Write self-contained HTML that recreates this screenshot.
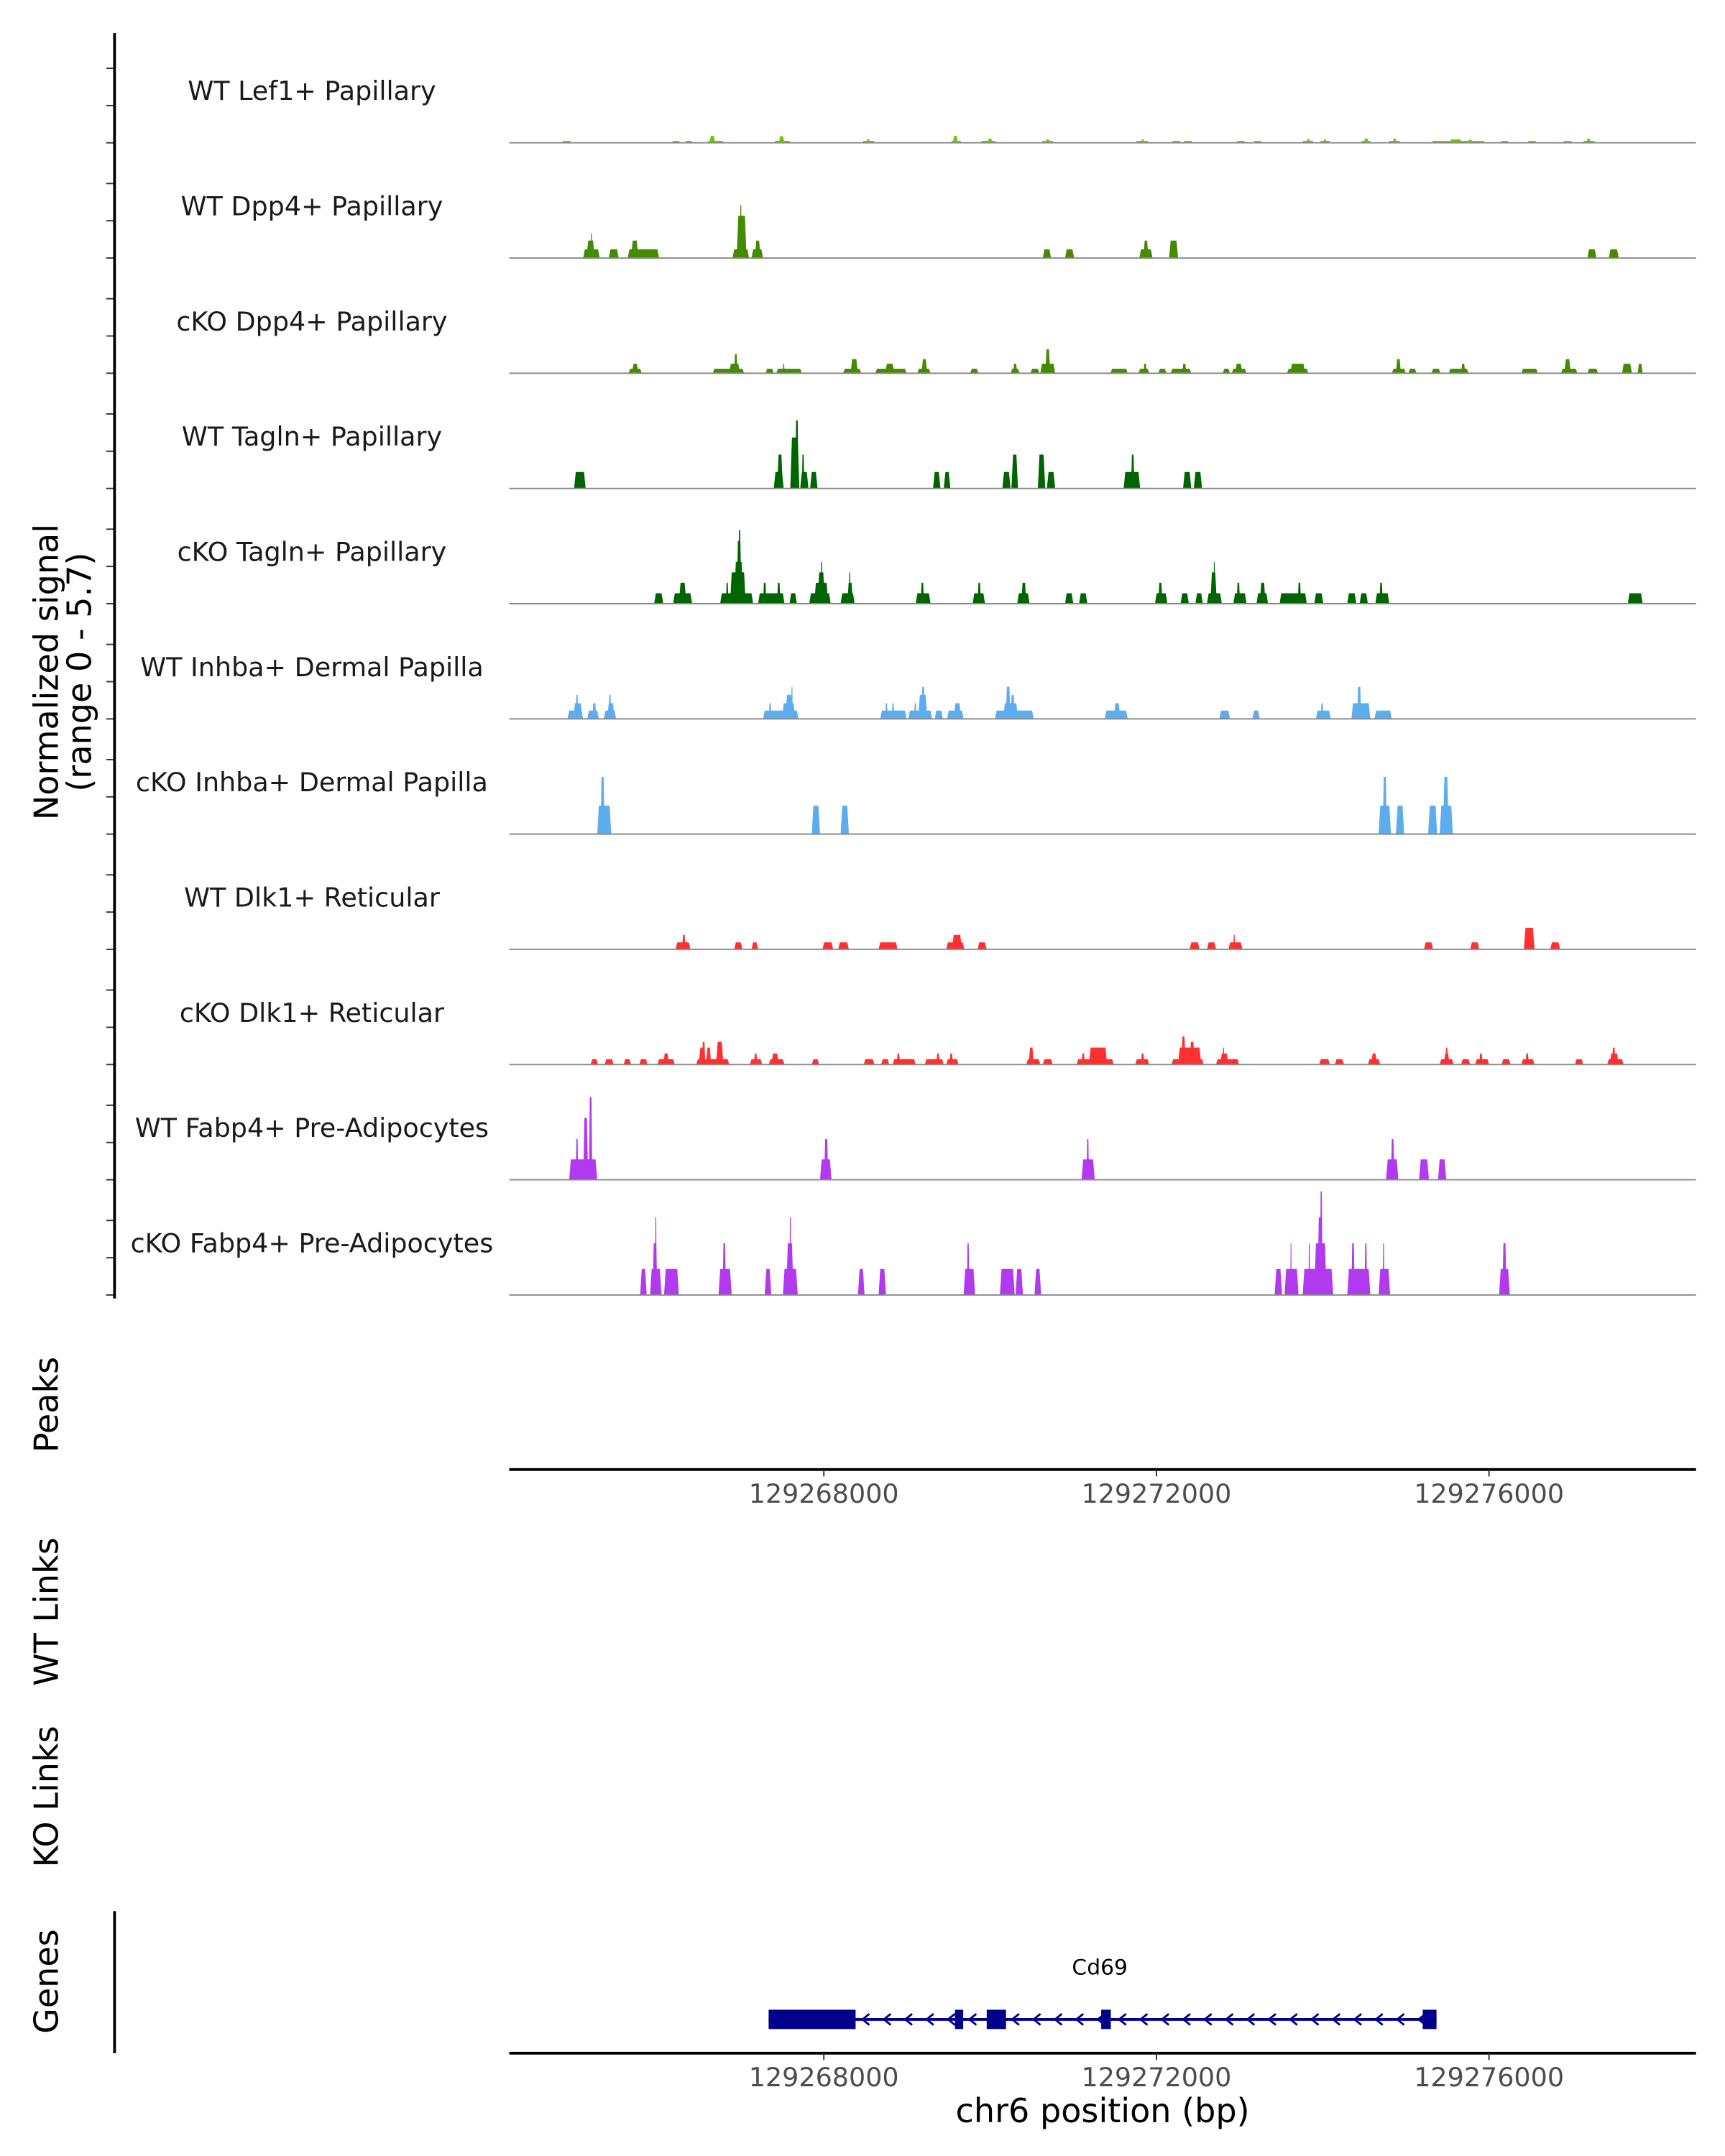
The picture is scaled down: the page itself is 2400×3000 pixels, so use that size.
<!DOCTYPE html>
<html><head><meta charset="utf-8"><style>
html,body{margin:0;padding:0;background:#fff;}
svg{display:block;font-family:"DejaVu Sans","Liberation Sans",sans-serif;}
</style></head><body>
<svg id="chart" width="2400" height="3000" viewBox="0 0 1250 1562.5" xmlns="http://www.w3.org/2000/svg">
<rect width="1250" height="1562.5" fill="#fff"/>
<g id="tracks"></g>
<g id="labels"></g>
<g id="leftaxis"></g>
<text transform="translate(42,487) rotate(-90)" text-anchor="middle" font-size="24" fill="#000">Normalized signal</text>
<text transform="translate(66,487) rotate(-90)" text-anchor="middle" font-size="24" fill="#000">(range 0 - 5.7)</text>
<text transform="translate(42,1018) rotate(-90)" text-anchor="middle" font-size="24" fill="#000">Peaks</text>
<text transform="translate(42,1168) rotate(-90)" text-anchor="middle" font-size="24" fill="#000">WT Links</text>
<text transform="translate(42,1302) rotate(-90)" text-anchor="middle" font-size="24" fill="#000">KO Links</text>
<text transform="translate(42,1436) rotate(-90)" text-anchor="middle" font-size="24" fill="#000">Genes</text>
<line x1="83" y1="1385" x2="83" y2="1488" stroke="#000" stroke-width="2"/>
<g id="xaxes"></g>
<g id="gene"></g>
<text x="799" y="1538" text-anchor="middle" font-size="24" fill="#000">chr6 position (bp)</text>
</svg>
<script>
// axis region (kb) and data (offsets in kb from dataOrigin, signal value)
const regionStart = 129264.216;
const regionEnd = 129278.49;
const dataOrigin = 129264.014;
const dataStep = 0.9924;
const trackNames = ["WT Lef1+ Papillary","WT Dpp4+ Papillary","cKO Dpp4+ Papillary","WT Tagln+ Papillary","cKO Tagln+ Papillary","WT Inhba+ Dermal Papilla","cKO Inhba+ Dermal Papilla","WT Dlk1+ Reticular","cKO Dlk1+ Reticular","WT Fabp4+ Pre-Adipocytes","cKO Fabp4+ Pre-Adipocytes"];
const trackColors = ["#66cc00","#458b00","#458b00","#006400","#006400","#5cacee","#5cacee","#ff3030","#ff3030","#b23aee","#b23aee"];
const xTicks = [129268, 129272, 129276];
const xTickLabels = ["129268000","129272000","129276000"];
const yMax = 5.7;
const sig1 = [[0.84,0.96,0.1],[2.17,2.28,0.1],[2.33,2.43,0.1],[2.60,2.81,0.1],[2.63,2.70,0.36],[3.41,3.62,0.1],[3.47,3.54,0.34],[4.48,4.64,0.1],[4.53,4.58,0.18],[5.55,5.69,0.1],[5.58,5.64,0.36],[5.91,6.11,0.1],[6.0,6.06,0.22],[6.65,6.81,0.1],[6.7,6.76,0.18],[7.79,7.96,0.1],[7.86,7.9,0.18],[8.23,8.35,0.1],[8.37,8.49,0.1],[9.01,9.13,0.1],[9.22,9.33,0.1],[9.81,9.96,0.1],[9.86,9.92,0.18],[10.02,10.16,0.1],[10.07,10.11,0.18],[10.52,10.65,0.1],[10.56,10.62,0.22],[10.85,11.01,0.1],[10.91,10.96,0.22],[11.38,12.03,0.1],[11.6,11.75,0.18],[11.82,11.88,0.16],[12.21,12.32,0.1],[12.54,12.66,0.1],[12.97,13.09,0.1],[13.21,13.37,0.1],[13.26,13.31,0.22]];
const sig2 = [[1.10,1.30,0.45],[1.14,1.24,0.9],[1.19,1.21,1.28],[1.41,1.53,0.45],[1.64,2.02,0.45],[1.68,1.77,0.9],[2.91,3.11,0.45],[2.96,3.08,2.18],[3.0,3.02,2.75],[3.14,3.28,0.45],[3.18,3.25,0.9],[6.67,6.77,0.45],[6.94,7.05,0.45],[7.84,8.0,0.45],[7.89,7.95,0.9],[8.2,8.31,0.9],[13.27,13.38,0.45],[13.53,13.65,0.45]];
const sig3 = [[1.65,1.81,0.23],[1.69,1.77,0.49],[2.67,3.05,0.23],[2.87,3.0,0.49],[2.93,2.97,0.99],[3.31,3.41,0.23],[3.44,3.75,0.23],[3.52,3.54,0.49],[4.25,4.47,0.23],[4.34,4.43,0.73],[4.64,5.02,0.23],[4.76,4.87,0.49],[5.15,5.31,0.23],[5.2,5.27,0.73],[5.79,5.89,0.23],[6.28,6.39,0.23],[6.31,6.36,0.49],[6.52,6.63,0.23],[6.64,6.82,0.49],[6.7,6.76,1.24],[7.49,7.7,0.23],[7.83,7.96,0.23],[7.89,7.93,0.49],[8.07,8.17,0.23],[8.22,8.47,0.23],[8.36,8.41,0.49],[8.85,8.94,0.23],[8.96,9.14,0.23],[9.0,9.09,0.49],[9.63,9.89,0.23],[9.67,9.85,0.49],[10.9,11.07,0.23],[10.95,11.01,0.73],[11.1,11.2,0.23],[11.38,11.49,0.23],[11.59,11.83,0.23],[11.74,11.79,0.49],[12.47,12.67,0.23],[12.95,13.15,0.23],[12.99,13.07,0.73],[13.27,13.4,0.23],[13.69,13.81,0.49],[13.88,13.94,0.49]];
const sig4 = [[0.99,1.13,0.85],[3.41,3.53,0.85],[3.45,3.52,1.75],[3.61,3.72,2.63],[3.67,3.71,3.51],[3.73,3.83,0.85],[3.75,3.78,1.75],[3.85,3.94,0.85],[5.34,5.43,0.85],[5.47,5.55,0.85],[6.18,6.28,0.85],[6.29,6.37,1.75],[6.61,6.7,1.75],[6.72,6.82,0.85],[7.65,7.85,0.85],[7.74,7.78,1.75],[8.37,8.47,0.85],[8.5,8.6,0.85]];
const sig5 = [[1.96,2.07,0.54],[2.19,2.42,0.54],[2.26,2.35,1.08],[2.76,3.16,0.54],[2.83,2.86,1.08],[2.88,3.07,1.62],[2.93,3.04,2.16],[2.96,3.02,3.24],[2.98,3.01,3.79],[3.22,3.54,0.54],[3.28,3.32,1.08],[3.45,3.49,1.08],[3.6,3.69,0.54],[3.84,4.1,0.54],[3.9,4.07,1.08],[3.94,4.03,1.62],[3.98,4.0,2.16],[4.22,4.39,0.54],[4.3,4.37,1.08],[4.32,4.34,1.62],[5.13,5.31,0.54],[5.19,5.23,1.08],[5.82,5.97,0.54],[5.88,5.92,1.08],[6.36,6.51,0.54],[6.41,6.47,1.08],[6.94,7.04,0.54],[7.11,7.21,0.54],[8.03,8.18,0.54],[8.07,8.12,1.08],[8.34,8.44,0.54],[8.52,8.61,0.54],[8.66,8.84,0.54],[8.7,8.78,1.62],[8.74,8.75,2.16],[8.98,9.14,0.54],[9.02,9.06,1.08],[9.26,9.4,0.54],[9.3,9.37,1.08],[9.54,9.87,0.54],[9.76,9.8,1.08],[9.96,10.07,0.54],[10.36,10.47,0.54],[10.51,10.61,0.54],[10.7,10.87,0.54],[10.75,10.79,1.08],[13.76,13.94,0.54]];
const sig6 = [[0.91,1.1,0.43],[0.98,1.09,0.81],[1.01,1.04,1.24],[1.15,1.29,0.43],[1.21,1.26,0.81],[1.35,1.5,0.43],[1.39,1.48,0.81],[1.41,1.44,1.24],[3.28,3.71,0.43],[3.35,3.38,0.81],[3.51,3.67,0.81],[3.55,3.64,1.24],[3.62,3.64,1.66],[4.7,5.02,0.43],[4.76,4.79,0.81],[4.84,4.87,0.81],[5.04,5.33,0.43],[5.11,5.14,0.81],[5.16,5.27,1.24],[5.2,5.24,1.66],[5.36,5.46,0.43],[5.51,5.71,0.43],[5.59,5.68,0.81],[6.09,6.56,0.43],[6.19,6.37,0.81],[6.22,6.28,1.66],[6.28,6.33,1.24],[7.42,7.7,0.43],[7.53,7.61,0.81],[8.81,8.94,0.43],[9.21,9.3,0.43],[9.98,10.16,0.43],[10.04,10.07,0.81],[10.41,10.64,0.81],[10.48,10.53,1.66],[10.69,10.9,0.43]];
const sig7 = [[1.27,1.44,1.47],[1.31,1.36,2.96],[3.87,3.97,1.47],[4.22,4.32,1.47],[10.74,10.89,1.47],[10.79,10.84,2.96],[10.95,11.05,1.47],[11.34,11.45,1.47],[11.48,11.64,1.47],[11.52,11.59,2.96]];
const sig8 = [[2.22,2.4,0.36],[2.3,2.34,0.75],[2.93,3.03,0.36],[3.14,3.22,0.36],[4.0,4.13,0.36],[4.19,4.32,0.36],[4.68,4.91,0.36],[5.5,5.72,0.36],[5.57,5.69,0.75],[5.88,5.99,0.36],[8.45,8.57,0.36],[8.66,8.77,0.36],[8.92,9.09,0.36],[8.98,9.0,0.75],[11.29,11.4,0.36],[11.85,11.96,0.36],[12.5,12.63,1.11],[12.82,12.94,0.36]];
const sig9 = [[1.19,1.28,0.28],[1.36,1.47,0.28],[1.59,1.68,0.28],[1.78,1.88,0.28],[2.0,2.21,0.28],[2.07,2.14,0.57],[2.47,2.87,0.28],[2.5,2.58,0.88],[2.54,2.58,1.17],[2.59,2.65,0.88],[2.71,2.8,1.17],[3.12,3.27,0.28],[3.17,3.21,0.57],[3.35,3.54,0.28],[3.38,3.47,0.57],[3.87,3.96,0.28],[4.5,4.63,0.28],[4.71,4.81,0.28],[4.85,5.13,0.28],[4.9,4.94,0.57],[5.24,5.47,0.28],[5.38,5.42,0.57],[5.5,5.65,0.28],[5.54,5.58,0.57],[6.47,6.64,0.28],[6.5,6.56,0.88],[6.67,6.79,0.28],[7.08,7.53,0.28],[7.14,7.18,0.57],[7.23,7.45,0.88],[7.79,7.96,0.28],[7.86,7.9,0.57],[8.23,8.62,0.28],[8.31,8.59,0.88],[8.35,8.4,1.45],[8.45,8.51,1.17],[8.77,9.05,0.28],[8.82,8.92,0.57],[8.85,8.87,0.88],[10.02,10.15,0.28],[10.21,10.32,0.28],[10.61,10.76,0.28],[10.65,10.72,0.57],[11.48,11.65,0.28],[11.53,11.6,0.57],[11.55,11.58,0.88],[11.74,11.85,0.28],[11.91,12.08,0.28],[11.96,12.0,0.57],[12.23,12.34,0.28],[12.47,12.63,0.28],[12.52,12.56,0.57],[13.12,13.22,0.28],[13.51,13.71,0.28],[13.54,13.65,0.57],[13.57,13.61,0.88]];
const sig10 = [[0.93,1.27,1.05],[1.01,1.04,2.1],[1.1,1.16,3.19],[1.17,1.21,4.27],[3.97,4.11,1.05],[4.02,4.07,2.1],[7.14,7.3,1.05],[7.2,7.23,2.1],[10.83,10.98,1.05],[10.89,10.93,2.1],[11.23,11.35,1.05],[11.46,11.56,1.05]];
const sig11 = [[1.79,1.87,1.34],[1.91,2.05,1.34],[1.94,2.0,2.67],[1.97,1.99,4.01],[2.08,2.26,1.34],[2.74,2.9,1.34],[2.79,2.83,2.67],[3.3,3.38,1.34],[3.52,3.7,1.34],[3.56,3.65,2.67],[3.6,3.62,4.01],[4.43,4.51,1.34],[4.68,4.77,1.34],[5.71,5.85,1.34],[5.75,5.78,2.67],[6.15,6.33,1.34],[6.34,6.43,1.34],[6.57,6.65,1.34],[9.48,9.57,1.34],[9.6,9.77,1.34],[9.67,9.68,2.67],[9.82,10.19,1.34],[9.89,9.91,2.67],[9.96,10.11,2.67],[10.0,10.06,4.01],[10.03,10.06,5.35],[10.36,10.64,1.34],[10.41,10.45,2.67],[10.57,10.6,2.67],[10.74,10.88,1.34],[10.79,10.81,2.67],[12.2,12.33,1.34],[12.24,12.29,2.67]];
const geneExons = [[129267.336,129268.382],[129269.577,129269.676],[129269.959,129270.191],[129271.336,129271.452],[129275.203,129275.369]];
const geneSpan = [129267.336,129275.369];

const NS = "http://www.w3.org/2000/svg";
const signals = [sig1,sig2,sig3,sig4,sig5,sig6,sig7,sig8,sig9,sig10,sig11];
const X0 = 369, X1 = 1229;
function xScale(kb){ return X0 + (kb - regionStart) / (regionEnd - regionStart) * (X1 - X0); }
function offToKb(o){ return dataOrigin + o * dataStep; }
const firstBase = 103.5, trackStep = 83.5, fullH = 80;
function yScale(v, base){ return base - v / yMax * fullH; }
function mk(tag, attrs, parent){ const e = document.createElementNS(NS, tag); for (const k in attrs) e.setAttribute(k, attrs[k]); parent.appendChild(e); return e; }

const tracksG = document.getElementById('tracks');
const labelsG = document.getElementById('labels');
const leftG = document.getElementById('leftaxis');
signals.forEach((sig, i) => {
  const base = firstBase + i * trackStep;
  const g = mk('g', {}, tracksG);
  
  
  sig.forEach(p => {
    const x1 = xScale(offToKb(p[0])), x2 = Math.max(xScale(offToKb(p[1])), x1 + 1);
    const y = yScale(p[2], base);
    const w = x2 - x1;
    const inset = Math.min(w * 0.25, 1.2);
    const pts = [[x1, base], [x1 + inset, y], [x2 - inset, y], [x2, base]].map(q => q.join(',')).join(' ');
    const r = mk('polygon', {points: pts, fill: trackColors[i]}, g);
    
    
  });
  const bl = mk('line', {x1: X0, x2: X1, y1: base, y2: base, stroke: '#8a8a8a', 'stroke-width': 1}, g);
  
  
  const t = mk('text', {x: 226, y: base - 31, 'text-anchor': 'middle', 'font-size': 19, fill: '#1a1a1a'}, labelsG);
  t.textContent = trackNames[i];
  
  
  for (let k = 0; k < 3; k++) {
    const ty = base - k * 27;
    const tk = mk('line', {x1: 77, x2: 83, y1: ty, y2: ty, stroke: '#333', 'stroke-width': 1}, leftG);
    
    
  }
});
const al = mk('line', {x1: 83, x2: 83, y1: 24, y2: 941, stroke: '#000', 'stroke-width': 2}, leftG);



const xg = document.getElementById('xaxes');
[1065, 1488].forEach((ay, j) => {
  const ln = mk('line', {x1: X0, x2: X1, y1: ay, y2: ay, stroke: '#000', 'stroke-width': 2}, xg);
  
  
  xTicks.forEach((v, k) => {
    const x = xScale(v);
    const tk = mk('line', {x1: x, x2: x, y1: ay, y2: ay + 5, stroke: '#333', 'stroke-width': 1}, xg);
    
    
    const tl = mk('text', {x: x, y: ay + 24, 'text-anchor': 'middle', 'font-size': 19, fill: '#4d4d4d'}, xg);
    tl.textContent = xTickLabels[k];
    
    
  });
});

const gg = document.getElementById('gene');
const gy = 1463.5;
const gl = mk('line', {x1: xScale(geneSpan[0]), x2: xScale(geneSpan[1]), y1: gy, y2: gy, stroke: '#00008b', 'stroke-width': 2}, gg);


for (let x = xScale(geneSpan[0]) + 70; x < xScale(geneSpan[1]) - 8; x += 15.5) {
  const a = mk('polyline', {points: (x + 3) + ',' + (gy - 4) + ' ' + (x - 2) + ',' + gy + ' ' + (x + 3) + ',' + (gy + 4), fill: 'none', stroke: '#00008b', 'stroke-width': 1.5}, gg);
  
  
}
geneExons.forEach(e => {
  const x1 = xScale(e[0]), x2 = xScale(e[1]);
  const r = mk('rect', {x: x1, y: gy - 7, width: x2 - x1, height: 14, fill: '#00008b'}, gg);
  
  
});
const gt = mk('text', {x: xScale(129271.336) - 1, y: 1431, 'text-anchor': 'middle', 'font-size': 15.5, fill: '#000'}, gg);
gt.textContent = 'Cd69';


</script>
</body></html>
